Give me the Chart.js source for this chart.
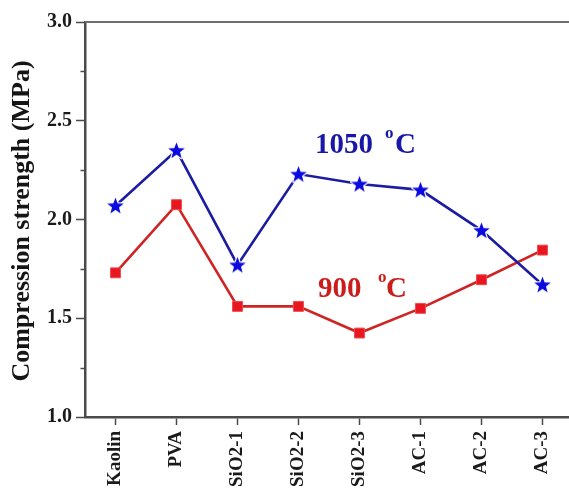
<!DOCTYPE html>
<html>
<head>
<meta charset="utf-8">
<script src="https://cdn.jsdelivr.net/npm/chart.js@4/dist/chart.umd.min.js"></script>
<style>
  html, body { margin: 0; padding: 0; background: #fff; overflow: hidden; }
  #wrap { width: 575px; height: 489px; }
  canvas { display: block; }
</style>
</head>
<body>
<div id="wrap"><canvas id="c" width="575" height="489" style="width:575px;height:489px"></canvas></div>
<script>
// Samples and measured compression strength (MPa) at two firing temperatures
const samples = ["Kaolin", "PVA", "SiO2-1", "SiO2-2", "SiO2-3", "AC-1", "AC-2", "AC-3"];
const strength1050 = [2.07, 2.35, 1.77, 2.23, 2.18, 2.15, 1.945, 1.67];
const strength900 = [1.73, 2.075, 1.56, 1.56, 1.425, 1.55, 1.695, 1.845];
const yMajorTicks = [1.0, 1.5, 2.0, 2.5, 3.0];
const yMinorTicks = [1.25, 1.75, 2.25, 2.75];

const SERIF = '"Liberation Serif", "Times New Roman", serif';
const BLUE_LINE = '#1c1ca2';
const BLUE_MARK = '#0a0ae0';
const RED_LINE = '#cf2424';
const RED_MARK = '#e8161e';
const AXIS = '#4a4a4a';

// Filled five-point star marker with a thin white halo
function makeStar(size, color) {
  const cv = document.createElement('canvas');
  cv.width = size; cv.height = size;
  const g = cv.getContext('2d');
  const cx = size / 2, cy = size / 2 + 0.6;
  const R = size / 2 - 1.8, r = R * 0.42;
  g.beginPath();
  for (let i = 0; i < 10; i++) {
    const a = -Math.PI / 2 + i * Math.PI / 5;
    const rad = i % 2 === 0 ? R : r;
    g.lineTo(cx + rad * Math.cos(a), cy + rad * Math.sin(a));
  }
  g.closePath();
  g.lineJoin = 'round';
  g.lineWidth = 2.4;
  g.strokeStyle = '#ffffff';
  g.stroke();
  g.fillStyle = color;
  g.fill();
  return cv;
}
const starImg = makeStar(21, BLUE_MARK);

// Frame, minor ticks, axis title and temperature labels
const decorations = {
  id: 'decorations',
  afterDraw(chart) {
    const ctx = chart.ctx;
    const a = chart.chartArea;
    const y = chart.scales.y;
    ctx.save();
    // top and right frame
    ctx.strokeStyle = '#6e6e6e';
    ctx.lineWidth = 2;
    ctx.beginPath();
    ctx.moveTo(a.left, a.top);
    ctx.lineTo(a.right, a.top);
    ctx.lineTo(a.right, a.bottom);
    ctx.stroke();
    // minor y ticks
    ctx.strokeStyle = AXIS;
    ctx.lineWidth = 1.5;
    yMinorTicks.forEach(v => {
      const py = Math.round(y.getPixelForValue(v)) + 0.5;
      ctx.beginPath();
      ctx.moveTo(a.left - 4.5, py);
      ctx.lineTo(a.left, py);
      ctx.stroke();
    });
    // y axis title
    ctx.translate(22, 221);
    ctx.rotate(-Math.PI / 2);
    ctx.font = 'bold 26px ' + SERIF;
    ctx.fillStyle = '#151515';
    ctx.textAlign = 'center';
    ctx.textBaseline = 'middle';
    ctx.fillText('Compression strength (MPa)', 0, 0);
    ctx.restore();

    // temperature labels with superscript degree mark
    function tempLabel(num, x, oX, cX, base, color) {
      ctx.save();
      ctx.fillStyle = color;
      ctx.textBaseline = 'alphabetic';
      ctx.textAlign = 'left';
      ctx.font = 'bold 29px ' + SERIF;
      ctx.fillText(num, x, base);
      ctx.font = 'bold 17px ' + SERIF;
      ctx.fillText('o', oX, base - 15);
      ctx.font = 'bold 29px ' + SERIF;
      ctx.fillText('C', cX, base);
      ctx.restore();
    }
    tempLabel('1050', 315, 385, 395, 153, '#1818a8');
    tempLabel('900', 318, 378, 386, 297, '#cc1d1d');
  }
};

new Chart(document.getElementById('c'), {
  type: 'line',
  data: {
    labels: samples,
    datasets: [
      {
        label: '1050 °C',
        data: strength1050,
        borderColor: BLUE_LINE,
        borderWidth: 2.6,
        pointStyle: starImg,
        pointRadius: 10,
        pointHoverRadius: 10,
        fill: false,
        tension: 0
      },
      {
        label: '900 °C',
        data: strength900,
        borderColor: RED_LINE,
        borderWidth: 2.6,
        pointStyle: 'rect',
        pointRadius: 7,
        pointHoverRadius: 7,
        pointBackgroundColor: RED_MARK,
        pointBorderColor: '#f04a50',
        pointBorderWidth: 1,
        fill: false,
        tension: 0
      }
    ]
  },
  options: {
    responsive: false,
    animation: false,
    devicePixelRatio: 1,
    layout: { autoPadding: false, padding: { top: 22, right: 2, left: 0, bottom: 0 } },
    plugins: { legend: { display: false }, tooltip: { enabled: false } },
    scales: {
      x: {
        type: 'category',
        offset: true,
        grid: {
          offset: false,
          drawOnChartArea: false,
          drawTicks: true,
          tickLength: 8,
          tickWidth: 1.5,
          tickColor: AXIS
        },
        border: { display: true, color: AXIS, width: 2.5 },
        ticks: {
          autoSkip: false,
          minRotation: 90,
          maxRotation: 90,
          padding: 6,
          color: '#1a1a1a',
          font: { family: SERIF, size: 19, weight: 'bold' }
        },
        afterFit(s) {
          s.height = 72;
          s.paddingLeft = 0;
          s.paddingRight = 0;
        }
      },
      y: {
        min: 1,
        max: 3,
        afterBuildTicks(s) { s.ticks = yMajorTicks.map(v => ({ value: v })); },
        grid: {
          drawOnChartArea: false,
          drawTicks: true,
          tickLength: 9,
          tickWidth: 1.5,
          tickColor: AXIS
        },
        border: { display: true, color: AXIS, width: 2.5 },
        ticks: {
          padding: 4,
          color: '#1a1a1a',
          font: { family: SERIF, size: 20, weight: 'bold' },
          callback: v => Number(v).toFixed(1)
        },
        afterFit(s) {
          s.width = 85;
          s.paddingTop = 0;
          s.paddingBottom = 0;
        }
      }
    }
  },
  plugins: [decorations]
});
</script>
</body>
</html>
